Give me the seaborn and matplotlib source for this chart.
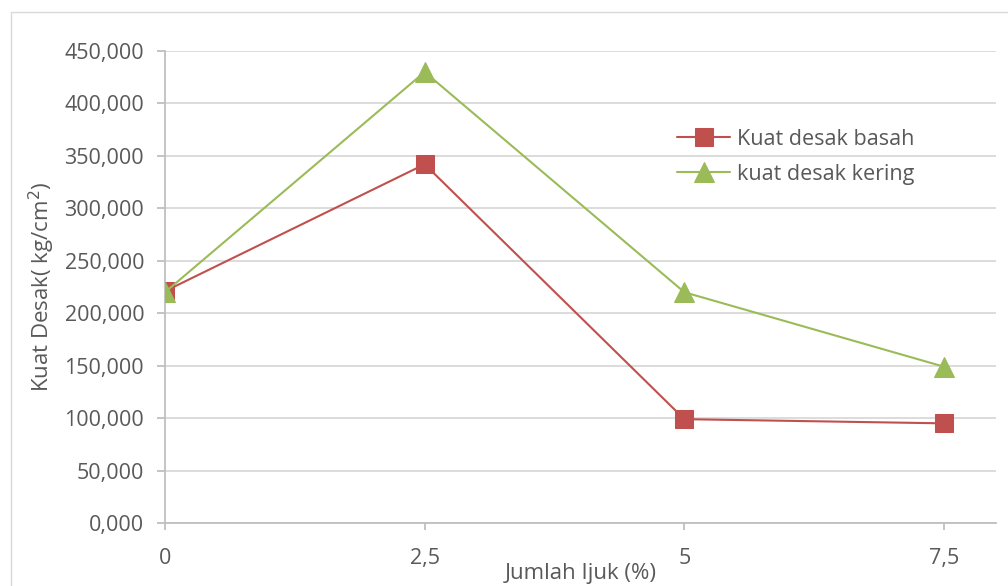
import matplotlib
matplotlib.use("Agg")
import matplotlib.pyplot as plt
import seaborn as sns
import pandas as pd
from matplotlib.ticker import FuncFormatter, FixedLocator
from matplotlib.patches import Rectangle

# Data
jumlah_ijuk = [0, 2.5, 5, 7.5]
x_tick_labels = ["0", "2,5", "5", "7,5"]
kuat_basah = [221, 342, 99, 95]
kuat_kering = [220, 430, 220, 149]
series_names = ["Kuat desak basah", "kuat desak kering"]

sns.set_theme(style="white")
plt.rcParams['font.family'] = ['Open Sans', 'DejaVu Sans']

RED = "#C0504D"
GREEN = "#9BBB59"
TXT = "#595959"
GRID = "#D9D9D9"
AX = "#BFBFBF"

fig = plt.figure(figsize=(10.08, 5.86), dpi=100)
ax = fig.add_axes([165/1008, 1-523/586, (996-165)/1008, (523-51)/586])

# chart border
fig.patches.append(Rectangle((11/1008, -0.1), 1.2, 1-12/586+0.1, transform=fig.transFigure,
                             fill=False, edgecolor="#D9D9D9", linewidth=1.0, clip_on=False))

df_b = pd.DataFrame({"x": jumlah_ijuk, "y": kuat_basah})
df_k = pd.DataFrame({"x": jumlah_ijuk, "y": kuat_kering})

sns.lineplot(data=df_b, x="x", y="y", ax=ax, color=RED, linewidth=1.5,
             marker="s", markersize=12.5, markeredgecolor=RED, label=series_names[0], zorder=3)
sns.lineplot(data=df_k, x="x", y="y", ax=ax, color=GREEN, linewidth=1.5,
             marker="^", markersize=14.5, markeredgecolor=GREEN, label=series_names[1], zorder=4)

ax.set_xlim(0, 8)
ax.set_ylim(0, 450)
ax.yaxis.set_major_locator(FixedLocator([i * 50 for i in range(10)]))
ax.yaxis.set_major_formatter(FuncFormatter(lambda v, p: f"{v:.3f}".replace(".", ",")))
ax.xaxis.set_major_locator(FixedLocator(jumlah_ijuk))
ax.set_xticklabels(x_tick_labels)

ax.grid(axis="y", color=GRID, linewidth=1.3)
ax.grid(axis="x", visible=False)
for s in ["top", "right"]:
    ax.spines[s].set_visible(False)
ax.spines["left"].set_color(AX)
ax.spines["bottom"].set_color(AX)
ax.spines["left"].set_linewidth(1.3)
ax.spines["bottom"].set_linewidth(1.3)

ax.tick_params(axis="y", which="major", length=6, width=1.3, color=AX, direction="out",
               labelsize=15.5, labelcolor=TXT, pad=9, left=True)
ax.tick_params(axis="x", which="major", length=5, width=1.3, color=AX, direction="out",
               labelsize=15.5, labelcolor=TXT, pad=13, bottom=True)

ax.set_xlabel("Jumlah Ijuk (%)", fontsize=16, color=TXT, labelpad=-4)
ax.set_ylabel("Kuat Desak( kg/cm$^{2}$)", fontsize=16, color=TXT, labelpad=5)

leg = ax.legend(loc="upper left", bbox_to_anchor=((668-165)/831, (523-120)/472),
                frameon=False, fontsize=15.5, labelcolor=TXT, handlelength=2.5,
                handletextpad=0.3, labelspacing=0.65, borderaxespad=0)

fig.savefig("out.png", dpi=100, facecolor="white")
